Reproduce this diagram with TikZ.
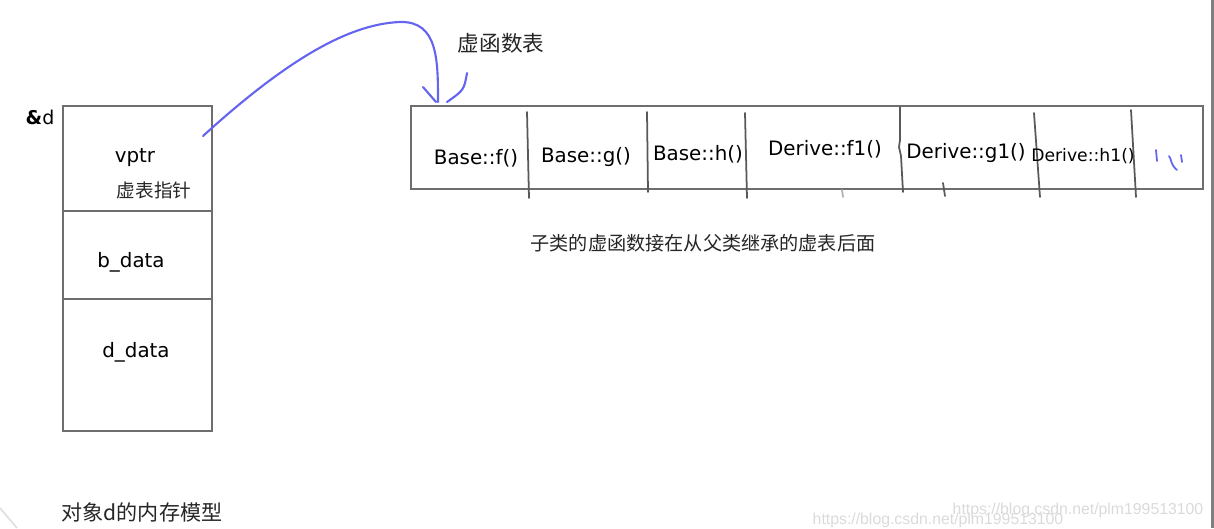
\documentclass[tikz,border=0pt]{standalone}
\usepackage{fontspec}
\setmainfont{DejaVu Sans}
\newfontfamily\cjk{Noto Sans CJK SC}
\newfontfamily\wmfont{Liberation Sans}
\usetikzlibrary{positioning}
\definecolor{boxgray}{RGB}{110,110,110}
\definecolor{penblue}{RGB}{100,100,240}
\definecolor{markgray}{RGB}{218,218,218}

\begin{document}
\begin{tikzpicture}[x=0.02cm,y=-0.02cm,
  lat/.style={font=\fontsize{11.3}{13}\selectfont,inner sep=0pt},
  han/.style={font=\cjk\fontsize{11}{13}\selectfont,text=black!85,inner sep=0pt},
  cell/.style={draw=boxgray,line width=1.1pt,minimum width={149*0.02cm},inner sep=0pt},
  div/.style={draw=black!65,line width=1pt,line cap=round},
  pen/.style={draw=penblue,line width=1.2pt,line cap=round,line join=round},
  wm/.style={font=\wmfont\fontsize{9}{10}\selectfont,text=markgray,inner sep=0pt}
]
\useasboundingbox (0,0) rectangle (1214,528);
% object d
\node[cell,minimum height={105*0.02cm}] (vcell) at (137.5,158.5) {};
\node[cell,minimum height={88*0.02cm}]  (bcell) at (137.5,255) {};
\node[cell,minimum height={132*0.02cm}] (dcell) at (137.5,365) {};
\node[lat,font=\fontsize{10.8}{12}\selectfont] (addr) at (40,117) {\textbf{\&}d};
\node[lat] (vptr)  at (135,158) {vptr};
\node[han,font=\cjk\fontsize{10.6}{12}\selectfont] (vptrcn) at (154,190) {虚表指针};
\node[lat] (bdata) at (131,262) {b\_data};
\node[lat] (ddata) at (136,352) {d\_data};
\node[han,font=\cjk\fontsize{12}{14}\selectfont] (objcap) at (142,512) {对象d的内存模型};

% virtual table
\node[draw=boxgray,line width=1.1pt,minimum width={792*0.02cm},minimum height={83*0.02cm},inner sep=0pt]
  (vtbl) at (807,147.5) {};
\foreach \a/\b/\t/\u in {527/529/112/198, 647/648/112/192, 745/747/113/198, 1034/1040/113/197, 1131/1136/110/197}
  { \draw[div] (\a,\t) -- (\b,\u); }
\draw[div] (900,107) -- (900,140) -- (899,147) -- (901,156) -- (903,192);
\draw[div] (943,183) -- (945,196);
\draw[div,black!30] (842,190) -- (843,197);
\node[lat] (bf)  at (476,158) {Base::f()};
\node[lat] (bg)  at (586,157) {Base::g()};
\node[lat] (bh)  at (698,154) {Base::h()};
\node[lat] (df1) at (825,149) {Derive::f1()};
\node[lat] (dg1) at (966,153) {Derive::g1()};
\node[lat,font=\fontsize{9.8}{12}\selectfont] (dh1) at (1083,156) {Derive::h1()};
\node[han,font=\cjk\fontsize{12.3}{14}\selectfont] (vtcap) at (501,43) {虚函数表};
\node[han,font=\cjk\fontsize{10.9}{13}\selectfont] (note) at (703,243) {子类的虚函数接在从父类继承的虚表后面};

% hand drawn arrow from vptr to the table
\coordinate (tail) at (203,136);
\coordinate (tip)  at (438,102);
\draw[pen] (tail) .. controls (280,66) and (345,24) .. (400,22)
  .. controls (438,21) and (438,60) .. (tip);
\draw[pen] (423,87) .. controls (430,94) .. (436,102);
\draw[pen] (467,73) .. controls (464,90) .. (447,102);
% scribble in the last cell
\draw[pen,line width=1pt] (1156,150) -- (1157,161);
\draw[pen,line width=1pt] (1169,156) .. controls (1172,160) and (1170,164) .. (1177,170);
\draw[pen,line width=1pt] (1181,155) -- (1182,162);

% screenshot leftovers
\draw[black!50,line width=1.3pt] (1212.5,0) -- (1212.5,528);
\draw[black!12,line width=1pt] (0,508) -- (17,528);
\node[wm] (wm1) at (1078,510) {https://blog.csdn.net/plm199513100};
\node[wm] (wm2) at (938,520) {https://blog.csdn.net/plm199513100};
\end{tikzpicture}
\end{document}
